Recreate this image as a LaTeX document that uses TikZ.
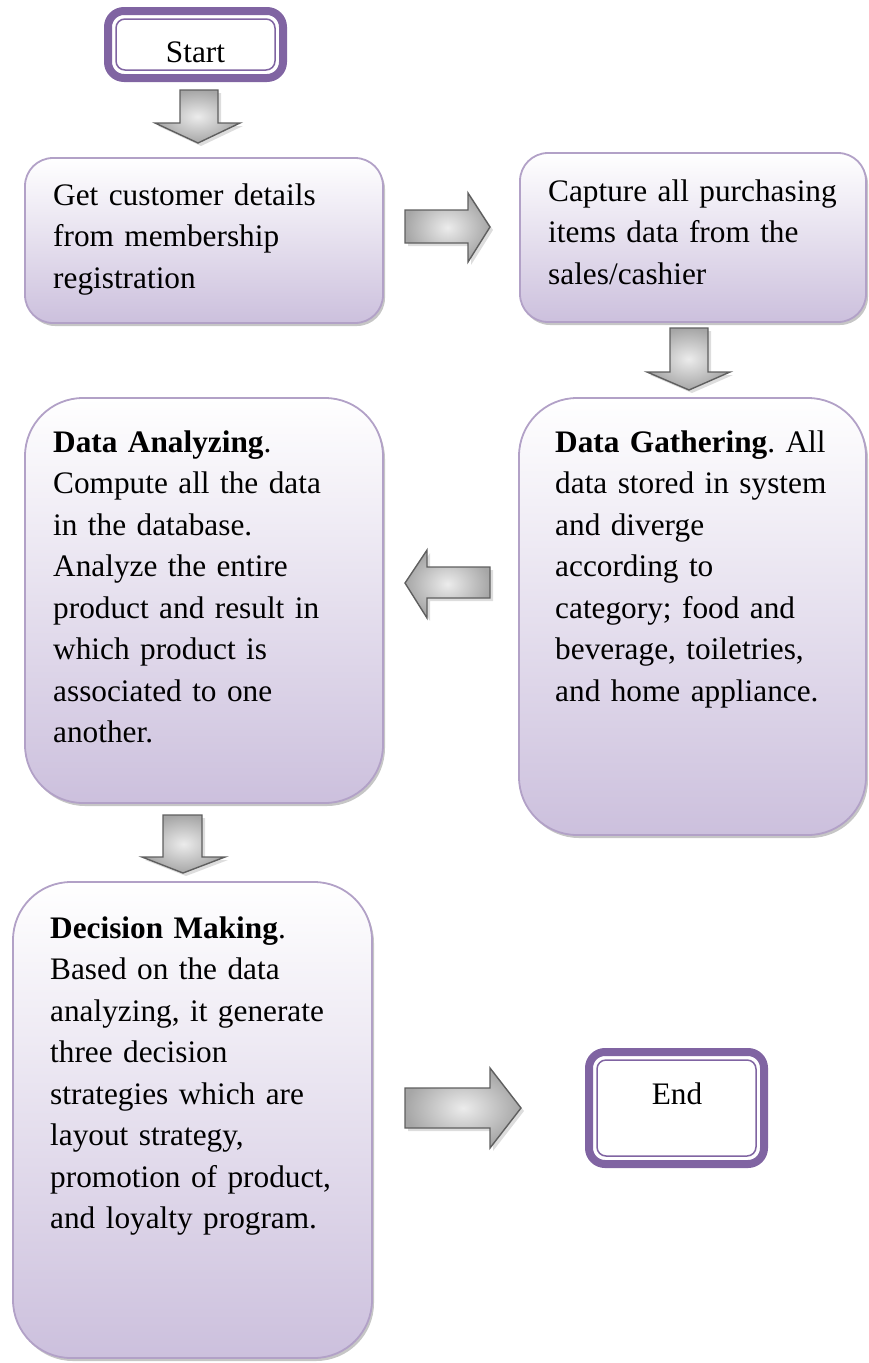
\documentclass[tikz,border=0pt]{standalone}
\usepackage{fontspec}
\setmainfont{Liberation Serif}
\usetikzlibrary{shadows,calc}
\definecolor{boxline}{RGB}{178,161,199}
\definecolor{boxbottom}{RGB}{204,192,221}
\definecolor{termline}{RGB}{128,100,162}
\definecolor{arrowline}{RGB}{95,95,95}
\frenchspacing
\begin{document}
\begin{tikzpicture}[x=1pt,y=-1pt,
  procbox/.style={draw=boxline, line width=1.8pt, top color=white, bottom color=boxbottom,
    inner sep=0pt, drop shadow={shadow xshift=2pt,shadow yshift=-3pt,fill=black!50,opacity=.45}},
  termbox/.style={draw=termline, line width=8pt, fill=white, inner sep=0pt, outer sep=0pt,
    rounded corners=16pt},
  termin/.style={draw=termline, line width=1.5pt, rounded corners=9pt},
  txt/.style={font=\fontsize{31.3}{41.5}\selectfont, inner sep=0pt, anchor=base west,
    align=left, text width=340pt},
  ttxt/.style={font=\fontsize{31.3}{41.5}\selectfont, inner sep=0pt, anchor=base},
  blockarrow/.style={draw=arrowline, line width=1.4pt, line join=miter,
    inner color=gray!15, outer color=gray!70,
    preaction={fill=gray!45, opacity=.6, transform canvas={shift={(3pt,-3pt)}}}}]
\useasboundingbox (0,0) rectangle (869,1363);

% terminals
\node[termbox, minimum width=175pt, minimum height=67pt] (start) at (195.5,44.5) {};
\draw[termin] ([shift={(8pt,-8pt)}]start.north west) rectangle ([shift={(-8pt,8pt)}]start.south east);
\node[ttxt] (starttext) at (195.5,62) {Start};

\node[termbox, minimum width=175pt, minimum height=112pt] (end) at (676.5,1108) {};
\draw[termin] ([shift={(8pt,-8pt)}]end.north west) rectangle ([shift={(-8pt,8pt)}]end.south east);
\node[ttxt] (endtext) at (677,1104) {End};

% process boxes
\node[procbox, rounded corners=28pt, minimum width=358pt, minimum height=165pt] (b1) at (204,240.5) {};
\node[procbox, rounded corners=28pt, minimum width=346pt, minimum height=169pt] (b2) at (693,237.5) {};
\node[procbox, rounded corners=58pt, minimum width=347pt, minimum height=437pt] (b3) at (692.5,616.5) {};
\node[procbox, rounded corners=58pt, minimum width=358pt, minimum height=405pt] (b4) at (204,600.5) {};
\node[procbox, rounded corners=58pt, minimum width=359pt, minimum height=476pt] (b5) at (192.5,1120) {};

\node[txt] (t1) at (53,205) {Get customer details\\from membership\\registration};
\node[txt] (t2) at (548,201) {Capture all purchasing\\items data from the\\sales/cashier};
\node[txt] (t3) at (555,452) {\textbf{Data Gathering}. All\\data stored in system\\and diverge\\according to\\category; food and\\beverage, toiletries,\\and home appliance.};
\node[txt] (t4) at (53,452) {\textbf{Data Analyzing}.\\Compute all the data\\in the database.\\Analyze the entire\\product and result in\\which product is\\associated to one\\another.};
\node[txt] (t5) at (50,938) {\textbf{Decision Making}.\\Based on the data\\analyzing, it generate\\three decision\\strategies which are\\layout strategy,\\promotion of product,\\and loyalty program.};

% block arrows between the steps
\draw[blockarrow] (180,90) -- (218,90) -- (218,123) -- (240,123) -- (198,143) -- (155,123) -- (180,123) -- cycle;
\draw[blockarrow] (405,210) -- (468,210) -- (468,193) -- (490,227) -- (468,262) -- (468,243) -- (405,243) -- cycle;
\draw[blockarrow] (670,328) -- (708,328) -- (708,372) -- (730,372) -- (689,390) -- (647,372) -- (670,372) -- cycle;
\draw[blockarrow] (490,567) -- (490,598) -- (427,598) -- (427,618) -- (405,583) -- (427,550) -- (427,567) -- cycle;
\draw[blockarrow] (163,815) -- (202,815) -- (202,857) -- (225,857) -- (183,873) -- (142,857) -- (163,857) -- cycle;
\draw[blockarrow] (405,1088) -- (490,1088) -- (490,1068) -- (521,1108) -- (490,1148) -- (490,1128) -- (405,1128) -- cycle;
\end{tikzpicture}
\end{document}
